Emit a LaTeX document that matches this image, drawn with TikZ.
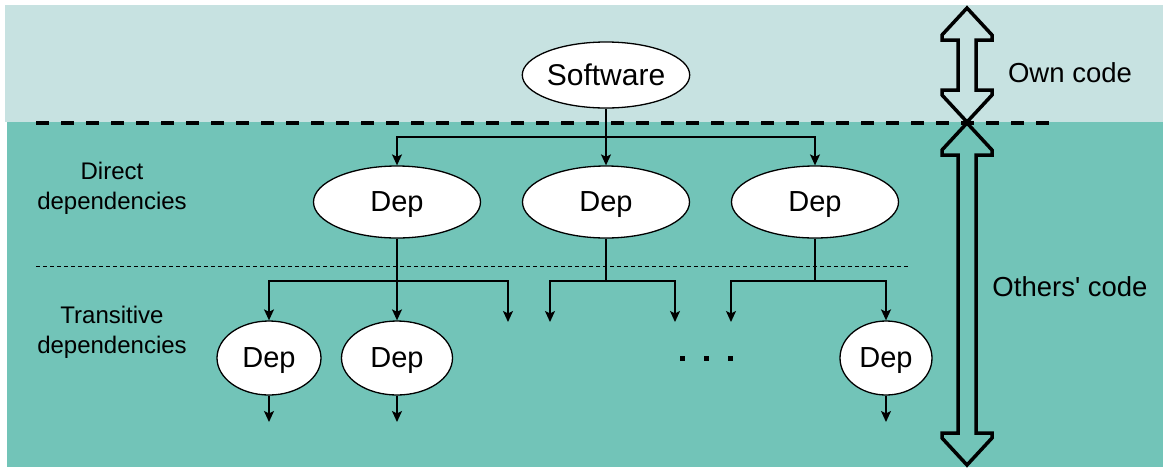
\documentclass[tikz,border=0pt]{standalone}
\usepackage{fontspec}
\setmainfont{Liberation Sans}[Ligatures=TeXOff]
\usetikzlibrary{shapes.geometric,arrows.meta}
\definecolor{lightbg}{HTML}{C7E2E1}
\definecolor{tealbg}{HTML}{72C4B8}
\tikzset{
  ell/.style={ellipse, draw=black, line width=1.3pt, fill=white, inner sep=0pt, text depth=0pt, font=\fontsize{29}{30}\selectfont},
  conn/.style={draw=black, line width=1.5pt},
  arr/.style={conn, -{Stealth[length=11pt,width=10pt,inset=2.5pt]}},
  bigarrow/.style={draw=black, line width=3.5pt, line join=miter},
  lbl/.style={align=center, font=\fontsize{24}{30}\selectfont},
  side/.style={font=\fontsize{27.5}{30}\selectfont},
}
\newcommand{\dblarrow}[3]{%
  \draw[bigarrow] (#1,#2) -- ({#1+25},{#2+27}) -- ({#1+25},{#2+32}) -- ({#1+9},{#2+32})
    -- ({#1+9},{#3-32}) -- ({#1+25},{#3-32}) -- ({#1+25},{#3-27}) -- (#1,#3)
    -- ({#1-25},{#3-27}) -- ({#1-25},{#3-32}) -- ({#1-9},{#3-32})
    -- ({#1-9},{#2+32}) -- ({#1-25},{#2+32}) -- ({#1-25},{#2+27}) -- cycle;}
\begin{document}
\begin{tikzpicture}[x=1pt,y=-1pt]
\useasboundingbox (0,0) rectangle (1163,467);
% backgrounds
\fill[lightbg] (5,5) rectangle (1163,122);
\fill[tealbg] (7,122) rectangle (1163,467);
% separators
\draw[line width=4pt, dash pattern=on 13pt off 12pt] (36,123) -- (1050,123);
\draw[line width=0.9pt, dash pattern=on 4pt off 3pt] (36,266) -- (908,266);
% nodes
\node[ell, minimum width=167pt, minimum height=66pt, font=\fontsize{30}{30}\selectfont] (sw) at (606,75) {Software};
\node[ell, minimum width=167pt, minimum height=72pt] (d1) at (397,202) {Dep};
\node[ell, minimum width=167pt, minimum height=72pt] (d2) at (606,202) {Dep};
\node[ell, minimum width=167pt, minimum height=72pt] (d3) at (815,202) {Dep};
\node[ell, minimum width=104pt, minimum height=74pt] (t1) at (269,358) {Dep};
\node[ell, minimum width=111pt, minimum height=74pt] (t2) at (397,358) {Dep};
\node[ell, minimum width=92pt, minimum height=74pt] (t3) at (886,358) {Dep};
% branch points and free ends
\coordinate (b0) at (606,137);
\coordinate (b1) at (397,281);
\coordinate (b2) at (606,281);
\coordinate (b3) at (815,281);
\coordinate (e1) at (508,322);
\coordinate (e2) at (550,322);
\coordinate (e3) at (675,322);
\coordinate (e4) at (731,322);
\coordinate (f1) at (269,422);
\coordinate (f2) at (397,422);
\coordinate (f3) at (886,422);
% connectors
\draw[conn] (sw.south) -- (b0);
\draw[arr] (b0) -| (d1.north);
\draw[arr] (b0) -- (d2.north);
\draw[arr] (b0) -| (d3.north);
\draw[conn] (d1.south) -- (b1);
\draw[arr] (b1) -| (t1.north);
\draw[arr] (b1) -- (t2.north);
\draw[arr] (b1) -| (e1);
\draw[conn] (d2.south) -- (b2);
\draw[arr] (b2) -| (e2);
\draw[arr] (b2) -| (e3);
\draw[conn] (d3.south) -- (b3);
\draw[arr] (b3) -| (e4);
\draw[arr] (b3) -| (t3.north);
\draw[arr] (t1.south) -- (f1);
\draw[arr] (t2.south) -- (f2);
\draw[arr] (t3.south) -- (f3);
% ellipsis
\foreach \x in {682,706,730} \fill (\x-2.5,355.5) rectangle (\x+2.5,360.5);
% labels
\node[lbl] (ldir) at (112,188) {Direct\\dependencies};
\node[lbl] (ltr) at (112,332) {Transitive\\dependencies};
% big arrows
\dblarrow{967}{8}{122}
\dblarrow{967}{123}{465}
\node[side] (own) at (1070,73) {Own code};
\node[side] (oth) at (1070,287) {Others' code};
\end{tikzpicture}
\end{document}
